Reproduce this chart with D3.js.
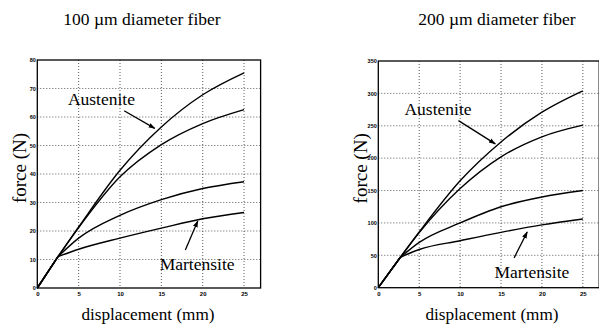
<!DOCTYPE html>
<html>
<head>
<meta charset="utf-8">
<script src="https://cdn.jsdelivr.net/npm/d3@7"></script>
<style>
  html, body { margin: 0; padding: 0; background: #fff; }
  svg { display: block; }
  text { font-family: "Liberation Serif", "Times New Roman", serif; fill: #000; }
  .tick text { font-family: "Liberation Sans", Arial, sans-serif; font-weight: bold; fill: #000; }
</style>
</head>
<body>
<div id="chart"></div>
<script>
// displacement (mm) sample points
const smallDisp = [0, 2.5, 5, 10, 15, 20, 25];
const bigDisp = [0, 2.7, 5, 10, 15, 20, 25];

// 100 um fiber, force (N)
const small_aust1 = [0, 11, 21.4, 41.3, 56.5, 67.8, 75.5];
const small_aust2 = [0, 11, 21.2, 39, 50.3, 57.7, 62.6];
const small_mart1 = [0, 11, 17.5, 25.5, 31, 34.9, 37.3];
const small_mart2 = [0, 11, 13.6, 17.5, 21, 24.3, 26.5];

// 200 um fiber, force (N)
const big_aust1 = [0, 47, 86, 165, 225, 271, 304];
const big_aust2 = [0, 47, 85, 153, 202, 233, 251];
const big_mart1 = [0, 47, 70, 100, 125, 140, 150];
const big_mart2 = [0, 47, 59, 72.5, 85.5, 97, 106];

const xTicks = [0, 5, 10, 15, 20, 25];
const smallYTicks = [0, 10, 20, 30, 40, 50, 60, 70, 80];
const bigYTicks = [0, 50, 100, 150, 200, 250, 300, 350];

// annotations in data units: label anchor and arrow (from -> to)
const smallNotes = [
  { text: "Austenite", at: [3.7, 64.2], from: [10.5, 62.2], to: [14.2, 56] },
  { text: "Martensite", at: [14.8, 6.3], from: [17.9, 13.3], to: [19.4, 23.5] }
];
const bigNotes = [
  { text: "Austenite", at: [3.2, 266], from: [9.8, 258], to: [14.3, 222] },
  { text: "Martensite", at: [14.2, 15], from: [16.6, 46], to: [18.2, 86] }
];

const W = 599, H = 328;
const svg = d3.select("#chart").append("svg").attr("width", W).attr("height", H);

svg.append("defs").append("marker")
  .attr("id", "head")
  .attr("viewBox", "0 0 10 10")
  .attr("refX", 9).attr("refY", 5)
  .attr("markerWidth", 7).attr("markerHeight", 7)
  .attr("markerUnits", "userSpaceOnUse")
  .attr("orient", "auto")
  .append("path").attr("d", "M0,1.5 L10,5 L0,8.5 Z").attr("fill", "#000");

function drawPanel(o) {
  const x = d3.scaleLinear().domain([0, 27]).range([o.left, o.right]);
  const y = d3.scaleLinear().domain([0, o.yMax]).range([o.bottom, o.top]);
  const g = svg.append("g");

  // grid
  g.append("g").selectAll("line").data(xTicks.slice(1)).join("line")
    .attr("x1", d => x(d)).attr("x2", d => x(d))
    .attr("y1", o.top).attr("y2", o.bottom)
    .attr("stroke", "#333").attr("stroke-width", 0.8).attr("stroke-dasharray", "1,2");
  g.append("g").selectAll("line").data(o.yTicks.slice(1, -1)).join("line")
    .attr("x1", o.left).attr("x2", o.right)
    .attr("y1", d => y(d)).attr("y2", d => y(d))
    .attr("stroke", "#333").attr("stroke-width", 0.8).attr("stroke-dasharray", "1,2");

  // frame
  g.append("rect")
    .attr("x", o.left).attr("y", o.top)
    .attr("width", o.right - o.left).attr("height", o.bottom - o.top)
    .attr("fill", "none").attr("stroke", "#000").attr("stroke-width", 1.3);

  // axes
  g.append("g").attr("transform", `translate(0,${o.bottom})`)
    .call(d3.axisBottom(x).tickValues(xTicks).tickSize(0).tickPadding(4))
    .call(a => a.select(".domain").remove())
    .selectAll("text").attr("font-size", 6);
  g.append("g").attr("transform", `translate(${o.left},0)`)
    .call(d3.axisLeft(y).tickValues(o.yTicks).tickSize(0).tickPadding(1.5))
    .call(a => a.select(".domain").remove())
    .selectAll("text").attr("font-size", 5.5);

  // curves: straight start up to the knee, smooth afterwards
  const disp = o.disp;
  const line = d3.line().x(d => x(d[0])).y(d => y(d[1])).curve(d3.curveMonotoneX);
  o.series.forEach(s => {
    const pts = s.map((v, i) => [disp[i], v]);
    g.append("path").attr("d", d3.line().x(d => x(d[0])).y(d => y(d[1]))(pts.slice(0, 2)))
      .attr("fill", "none").attr("stroke", "#000").attr("stroke-width", 1.4);
    g.append("path").attr("d", line(pts.slice(1)))
      .attr("fill", "none").attr("stroke", "#000").attr("stroke-width", 1.4);
  });

  // titles
  g.append("text").attr("x", o.titleX).attr("y", 25)
    .attr("text-anchor", "middle").attr("font-size", 17.5).text(o.title);
  g.append("text")
    .attr("transform", `translate(${o.left - 11.5},${(o.top + o.bottom) / 2 - 6}) rotate(-90)`)
    .attr("text-anchor", "middle").attr("font-size", 19).text("force (N)");
  g.append("text").attr("x", o.xLabelX).attr("y", 320)
    .attr("text-anchor", "middle").attr("font-size", 17.2).text("displacement (mm)");

  // annotations
  o.notes.forEach(n => {
    g.append("text").attr("x", x(n.at[0])).attr("y", y(n.at[1]))
      .attr("font-size", 17.5).text(n.text);
    g.append("line")
      .attr("x1", x(n.from[0])).attr("y1", y(n.from[1]))
      .attr("x2", x(n.to[0])).attr("y2", y(n.to[1]))
      .attr("stroke", "#000").attr("stroke-width", 1.3)
      .attr("marker-end", "url(#head)");
  });
}

drawPanel({
  left: 37.3, right: 260.6, top: 60, bottom: 288, yMax: 80,
  yTicks: smallYTicks, disp: smallDisp,
  series: [small_aust1, small_aust2, small_mart1, small_mart2],
  title: "100 \u00b5m diameter fiber", titleX: 142, xLabelX: 148,
  notes: smallNotes
});

drawPanel({
  left: 378.3, right: 599.2, top: 61, bottom: 287.7, yMax: 350,
  yTicks: bigYTicks, disp: bigDisp,
  series: [big_aust1, big_aust2, big_mart1, big_mart2],
  title: "200 \u00b5m diameter fiber", titleX: 497, xLabelX: 492,
  notes: bigNotes
});
</script>
</body>
</html>
